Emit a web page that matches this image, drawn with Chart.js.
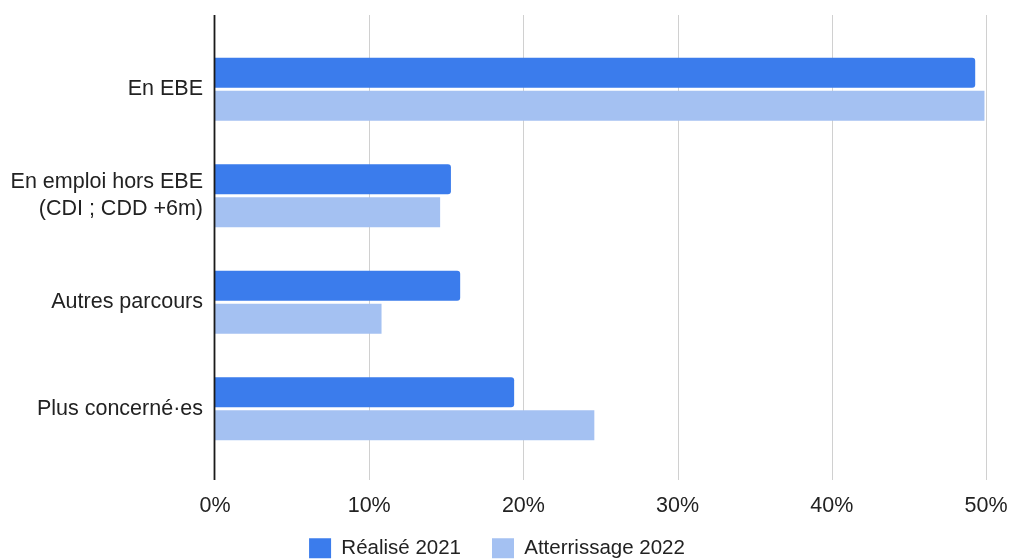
<!DOCTYPE html>
<html>
<head>
<meta charset="utf-8">
<script src="https://cdn.jsdelivr.net/npm/chart.js@4"></script>
<style>
  html, body { margin: 0; padding: 0; background: #fff; }
  #wrap { width: 1010px; height: 559px; position: relative; }
</style>
</head>
<body>
<div id="wrap"><canvas id="chart"></canvas></div>
<script>
const categories = ['En EBE', ['En emploi hors EBE', '(CDI ; CDD +6m)'], 'Autres parcours', 'Plus concerné·es'];
const realise2021 = [49.3, 15.3, 15.9, 19.4];
const atterrissage2022 = [49.9, 14.6, 10.8, 24.6];
const xTicks = [0, 10, 20, 30, 40, 50];

const FONT = "'Liberation Sans', Arial, sans-serif";

// grid lines in the original run a bit above and below the bars
const gridPlugin = {
    id: 'longGrid',
    afterLayout(chart) {
        // legend sits a little lower than Chart.js puts it,
        // and the x labels need room below the (short) axis box
        chart.legend.top += 9.5;
        chart.legend.bottom += 9.5;
        chart.legend.left += 4;
        chart.legend.right += 4;
        chart.scales.x.bottom += 30;
    },
    beforeDatasetsDraw(chart) {
        const ctx = chart.ctx;
        const area = chart.chartArea;
        const x = chart.scales.x;
        ctx.save();
        ctx.lineWidth = 1;
        ctx.strokeStyle = '#d0d0d0';
        xTicks.forEach(function (t) {
            if (t === 0) return;
            const px = Math.round(x.getPixelForValue(t)) + 0.5;
            ctx.beginPath();
            ctx.moveTo(px, area.top - 21);
            ctx.lineTo(px, area.bottom + 18);
            ctx.stroke();
        });
        ctx.restore();
    },
    afterDatasetsDraw(chart) {
        const ctx = chart.ctx;
        const area = chart.chartArea;
        const px = Math.round(chart.scales.x.getPixelForValue(0)) - 0.5;
        ctx.save();
        ctx.lineWidth = 1.8;
        ctx.strokeStyle = '#1a1a1a';
        ctx.beginPath();
        ctx.moveTo(px, area.top - 21);
        ctx.lineTo(px, area.bottom + 18);
        ctx.stroke();
        ctx.restore();
    }
};

new Chart(document.getElementById('chart'), {
    type: 'bar',
    data: {
        labels: categories,
        datasets: [{
            label: 'Réalisé 2021',
            data: realise2021,
            backgroundColor: '#3b7cec',
            borderRadius: { topRight: 3, bottomRight: 3 },
            borderSkipped: false,
            categoryPercentage: 0.62,
            barPercentage: 0.91
        }, {
            label: 'Atterrissage 2022',
            data: atterrissage2022,
            backgroundColor: '#a4c1f2',
            categoryPercentage: 0.62,
            barPercentage: 0.91
        }]
    },
    options: {
        indexAxis: 'y',
        responsive: true,
        maintainAspectRatio: false,
        animation: false,
        layout: { padding: { top: 36, right: 24, left: 0, bottom: 0 } },
        plugins: {
            legend: {
                position: 'bottom',
                labels: {
                    font: { family: FONT, size: 20.5 },
                    color: '#222',
                    boxWidth: 22,
                    boxHeight: 20,
                    padding: 31
                }
            },
            tooltip: { enabled: false }
        },
        scales: {
            x: {
                min: 0,
                max: 50,
                grid: { display: false, drawTicks: false },
                border: { display: false },
                ticks: {
                    stepSize: 10,
                    padding: 31,
                    color: '#222',
                    font: { family: FONT, size: 21.5 },
                    callback: function (value) { return value + '%'; }
                },
                afterFit: function (scale) {
                    scale.height = 35.5;
                    scale.paddingLeft = 0;
                    scale.paddingRight = 0;
                }
            },
            y: {
                grid: { display: false, drawTicks: false },
                border: { display: false },
                ticks: {
                    padding: 12,
                    color: '#222',
                    font: { family: FONT, size: 21.5, lineHeight: 1.26 }
                },
                afterFit: function (scale) { scale.width = 215; }
            }
        }
    },
    plugins: [gridPlugin]
});
</script>
</body>
</html>
